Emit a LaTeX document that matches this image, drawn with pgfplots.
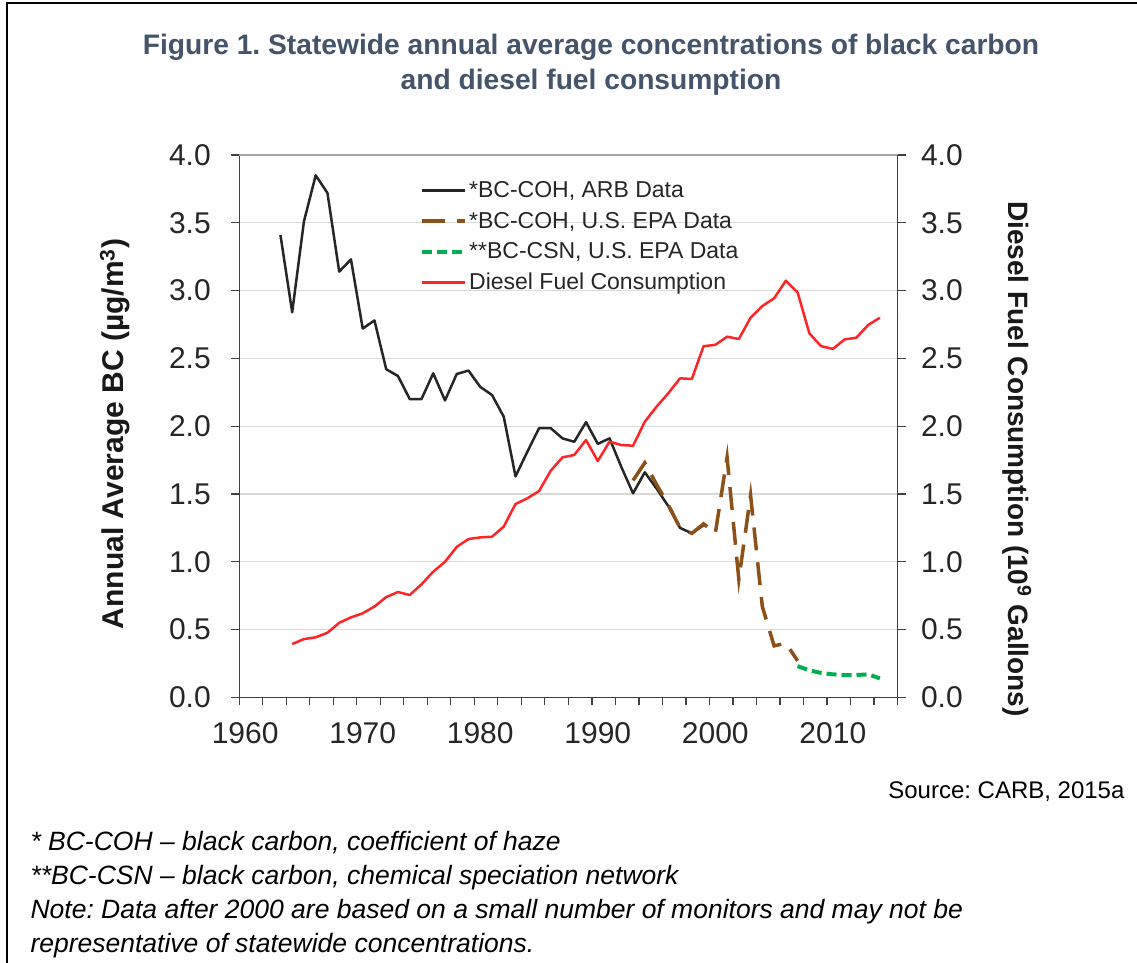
\documentclass[border=0pt]{standalone}
\usepackage{fontspec}
\setmainfont{Liberation Sans}
\usepackage{pgfplots}
\usepackage{pgfplotstable}
\pgfplotsset{compat=1.18}
\definecolor{titleblue}{HTML}{44546A}
\definecolor{bcbrown}{RGB}{140,80,25}
\definecolor{bcgreen}{HTML}{00B050}
\definecolor{fuelred}{HTML}{FF2525}
\definecolor{gridgray}{HTML}{D9D9D9}
\definecolor{axgray}{HTML}{404040}

\pgfplotstableread{
year val
1963 3.41
1964 2.84
1965 3.51
1966 3.85
1967 3.72
1968 3.14
1969 3.23
1970 2.72
1971 2.78
1972 2.42
1973 2.37
1974 2.20
1975 2.20
1976 2.39
1977 2.19
1978 2.385
1979 2.41
1980 2.29
1981 2.23
1982 2.07
1983 1.63
1984 1.81
1985 1.985
1986 1.985
1987 1.91
1988 1.885
1989 2.03
1990 1.87
1991 1.91
1992 1.70
1993 1.505
1994 1.66
1995 1.54
1996 1.41
1997 1.25
1998 1.21
1999 1.27
}\arb

\pgfplotstableread{
year val
1993 1.60
1994 1.73
1995 1.57
1996 1.42
1997 1.25
1998 1.21
1999 1.28
2000 1.21
2001 1.77
2002 0.87
2003 1.49
2004 0.67
2005 0.38
2006 0.40
2007 0.27
}\epa

\pgfplotstableread{
year val
2007 0.23
2008 0.20
2009 0.18
2010 0.17
2011 0.165
2012 0.165
2013 0.17
2014 0.14
}\csn

\pgfplotstableread{
year val
1964 0.394
1965 0.43
1966 0.443
1967 0.477
1968 0.55
1969 0.59
1970 0.62
1971 0.67
1972 0.74
1973 0.777
1974 0.755
1975 0.834
1976 0.927
1977 1.00
1978 1.11
1979 1.168
1980 1.18
1981 1.185
1982 1.26
1983 1.426
1984 1.468
1985 1.522
1986 1.672
1987 1.77
1988 1.788
1989 1.898
1990 1.743
1991 1.886
1992 1.861
1993 1.856
1994 2.033
1995 2.144
1996 2.243
1997 2.353
1998 2.348
1999 2.59
2000 2.60
2001 2.66
2002 2.643
2003 2.80
2004 2.886
2005 2.943
2006 3.073
2007 2.987
2008 2.685
2009 2.59
2010 2.57
2011 2.64
2012 2.653
2013 2.746
2014 2.80
}\fuel

\begin{document}
\frenchspacing
\begin{tikzpicture}[x=1pt,y=1pt]
\useasboundingbox (0,0) rectangle (1137,963);
\draw[black, line width=1.3pt] (7,0) -- (7,960) -- (1137,960);

\node[font=\fontsize{28.2}{32}\selectfont\bfseries, text=titleblue] at (591,916) {Figure 1. Statewide annual average concentrations of black carbon};
\node[font=\fontsize{28.2}{32}\selectfont\bfseries, text=titleblue] at (591,881) {and diesel fuel consumption};

\begin{axis}[
  at={(239.3pt,265.6pt)}, anchor=south west,
  width=658.2pt, height=542.4pt, scale only axis,
  xmin=1959.5, xmax=2015.5, ymin=0, ymax=4,
  axis y line*=left, axis x line*=bottom,
  axis line style={axgray, line width=1.3pt},
  tick align=outside,
  tick style={axgray, line width=1.2pt},
  major tick length=8pt,
  xtick={1959.5,1961.5,...,2015.5}, xticklabels={},
  extra x ticks={1960,1970,1980,1990,2000,2010},
  extra x tick labels={1960,1970,1980,1990,2000,2010},
  extra x tick style={major tick length=0pt, grid=none},
  xticklabel shift=22pt,
  yticklabel shift=17pt,
  ytick={0,0.5,...,4}, yticklabels={0.0,0.5,1.0,1.5,2.0,2.5,3.0,3.5,4.0},
  ymajorgrids, grid style={gridgray, line width=1.2pt},
  ticklabel style={font=\fontsize{30}{36}\selectfont, text=black!85},
  ylabel={Annual Average BC (µg/m\textsuperscript{3})},
  every axis y label/.style={at={(axis description cs:-0.1889,0.4856)}, rotate=90, anchor=center, font=\fontsize{30}{34}\selectfont\bfseries, text=black!90},
  legend style={at={(axis description cs:0.2745,0.955)}, anchor=north west, draw=none, fill=none,
    font=\fontsize{23}{27}\selectfont, inner sep=0pt, row sep=9pt, text=black!85},
  legend cell align=left,
  legend image code/.code={\draw[#1] (0pt,0pt) -- (43pt,0pt);},
]
\addplot[black!85, line width=2.5pt, line join=round] table[x=year,y=val] {\arb};
\addlegendentry{*BC-COH, ARB Data}
\addplot[bcbrown, line width=3.5pt, dash pattern=on 23pt off 12pt] table[x=year,y=val] {\epa};
\addlegendentry{*BC-COH, U.S. EPA Data}
\addplot[bcgreen, line width=4pt, dash pattern=on 10pt off 5pt] table[x=year,y=val] {\csn};
\addlegendentry{**BC-CSN, U.S. EPA Data}
\addplot[fuelred, line width=2.5pt, line join=round] table[x=year,y=val] {\fuel};
\addlegendentry{Diesel Fuel Consumption}
\end{axis}

\begin{axis}[
  at={(239.3pt,265.6pt)}, anchor=south west,
  width=658.2pt, height=542.4pt, scale only axis,
  xmin=1959.5, xmax=2015.5, ymin=0, ymax=4,
  axis y line*=right, axis x line*=top,
  y axis line style={axgray, line width=1.3pt},
  x axis line style={gray!70, line width=1.3pt},
  xtick=\empty,
  tick align=outside,
  tick style={axgray, line width=1.2pt},
  major tick length=8pt,
  yticklabel shift=12pt,
  ytick={0,0.5,...,4}, yticklabels={0.0,0.5,1.0,1.5,2.0,2.5,3.0,3.5,4.0},
  ticklabel style={font=\fontsize{30}{36}\selectfont, text=black!85},
  ylabel={Diesel Fuel Consumption (10\textsuperscript{9} Gallons)},
  every axis y label/.style={at={(axis description cs:1.1816,0.4395)}, rotate=-90, anchor=center, font=\fontsize{28}{32}\selectfont\bfseries, text=black!90},
]
\addplot[draw=none] coordinates {(1960,0)};
\end{axis}

\node[anchor=east, font=\fontsize{24}{28}\selectfont] at (1128,171) {Source: CARB, 2015a};
\node[anchor=west, font=\fontsize{26.5}{30}\selectfont\itshape] at (27,120) {* BC-COH -- black carbon, coefficient of haze};
\node[anchor=west, font=\fontsize{26.5}{30}\selectfont\itshape] at (27,85) {**BC-CSN -- black carbon, chemical speciation network};
\node[anchor=west, font=\fontsize{26.5}{30}\selectfont\itshape] at (27,51) {Note: Data after 2000 are based on a small number of monitors and may not be};
\node[anchor=west, font=\fontsize{26.5}{30}\selectfont\itshape] at (27,17) {representative of statewide concentrations.};
\end{tikzpicture}
\end{document}
